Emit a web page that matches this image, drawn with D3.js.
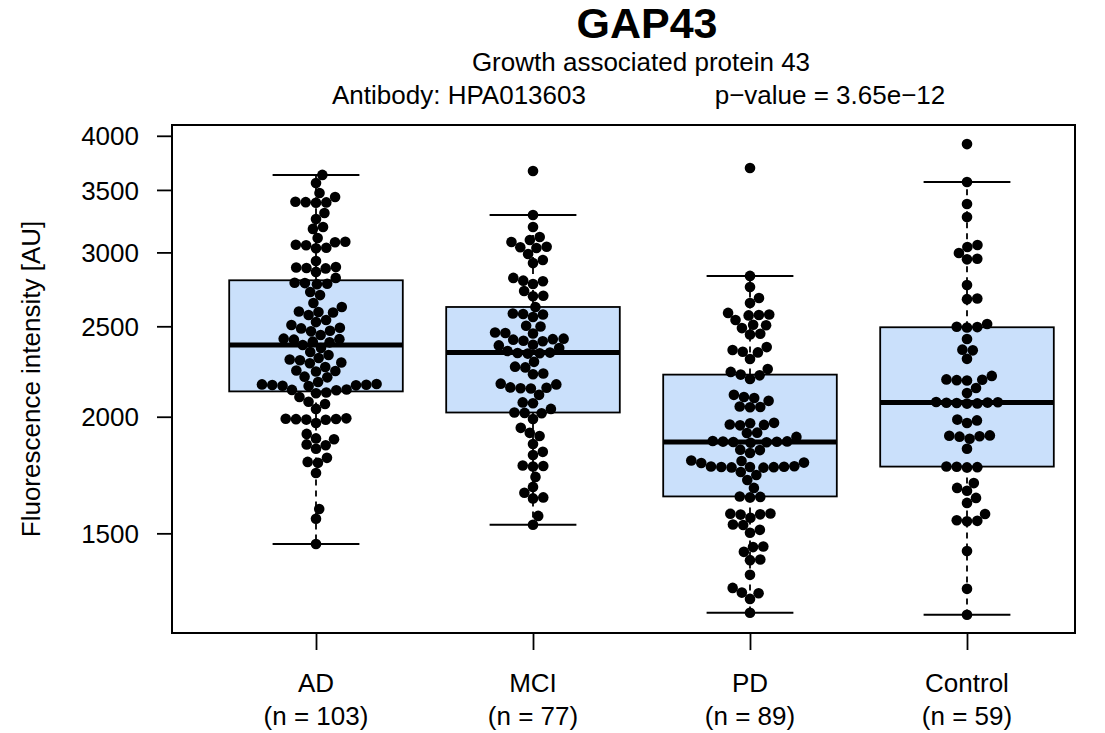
<!DOCTYPE html>
<html><head><meta charset="utf-8">
<script src="https://cdn.jsdelivr.net/npm/d3@7"></script>
<style>body{margin:0;background:#fff}svg{display:block}text{font-family:"Liberation Sans",Arial,Helvetica,sans-serif;fill:#000}</style>
</head><body>
<svg id="chart" width="1105" height="733"></svg>
<script>
// ---- data ----
const title = "GAP43";
const subtitle = "Growth associated protein 43";
const antibody = "Antibody: HPA013603";
const pvalue = "p\u2212value = 3.65e\u221212";
const yLabel = "Fluorescence intensity [AU]";
const categories = ["AD", "MCI", "PD", "Control"];
const yTicks = [1500, 2000, 2500, 3000, 3500, 4000];

const valuesAD = [3632,3560,3473,3439,3399,3396,3394,3391,3306,3258,3194,3179,3108,3080,3076,3057,3053,3035,3031,
 2937,2894,2890,2887,2884,2859,2817,2784,2781,2777,2774,2721,2700,2648,2622,2593,2590,2587,2571,2539,2526,2508,
 2491,2487,2473,2469,2447,2425,2422,2419,2407,2403,2387,
 2370,2346,2329,2312,2303,2299,2286,2282,2261,2242,2239,2236,2208,2204,2179,2168,2166,2164,2163,2161,2159,2157,2139,2137,2135,
 2123,2119,2100,2075,2064,2039,1992,1990,1989,1988,1986,1985,1969,1917,1896,1892,1868,1864,1848,1807,1789,1785,1741,1593,1555,1461];
const valuesMCI = [3667,3290,3194,3116,3093,3078,3042,3038,3033,2988,2944,2922,2817,2798,2794,2775,2727,2696,2692,2622,
 2580,2577,2574,2558,2503,2499,2462,2459,2456,2425,2422,2419,2412,2409,2389,2385,2370,2352,2343,2341,2339,2337,
 2290,2263,2259,2225,2221,2170,2166,2150,2148,2146,2144,2111,2072,2068,2039,2021,2019,2017,1989,1946,1922,1907,1870,
 1834,1820,1773,1771,1769,1724,1682,1658,1639,1635,1566,1532];
const valuesPD = [3694,2831,2754,2681,2648,2584,2574,2571,2568,2539,2510,2506,2489,2454,2450,2375,2358,2348,2344,2306,
 2250,2234,2219,2215,2195,2111,2100,2095,2080,2051,2049,2047,1970,1968,1962,1960,1958,1923,1921,1903,
 1884,1882,1881,1880,1879,1878,1876,1844,1842,1829,1795,1793,1786,1784,1770,1769,1768,1767,1767,1766,1765,1764,
 1745,1732,1711,1678,1643,1641,1639,1575,1574,1572,1571,1559,1533,1531,1513,1502,1452,1450,1433,1406,1404,1354,1311,1296,1294,1276,1233];
const valuesControl = [3919,3569,3380,3274,3055,3040,2996,2953,2949,2768,2677,2673,2514,2497,2495,2493,2423,2360,2356,2307,
 2212,2193,2191,2189,2187,2147,2121,2074,2073,2071,2070,2069,2067,2066,1986,1982,1969,1910,1908,1906,1904,1894,1848,
 1769,1768,1766,1765,1698,1678,1666,1637,1617,1573,1549,1547,1545,1436,1308,1227];
const groups = [valuesAD, valuesMCI, valuesPD, valuesControl];

// ---- layout ----
const svg = d3.select("#chart");
const plot = {left:172, right:1075, top:125, bottom:633};
const y = d3.scaleLog().domain([1173, 4108]).range([plot.bottom, plot.top]);
const x = d3.scaleLinear().domain([0.3364, 4.4977]).range([plot.left, plot.right]);
const boxW = 0.8, capW = 0.4;
const fillCol = "#cae0fb";
const diam = 10.3, rad = 5.3;
const fs = "26px";

function fivenum(a){
  const s=a.slice().sort((p,q)=>p-q), n=s.length, n4=Math.floor((n+3)/2)/2;
  return [1,n4,(n+1)/2,n+1-n4,n].map(k=>0.5*(s[Math.floor(k)-1]+s[Math.ceil(k)-1]));
}
function swarm(vals){
  const pts = vals.map(v=>({v, y:y(v)})).sort((a,b)=>a.v-b.v);
  const placed=[];
  for(const p of pts){
    const c=[0];
    for(const q of placed){const dy=Math.abs(q.y-p.y); if(dy<diam){const dx=Math.sqrt(diam*diam-dy*dy); c.push(q.x+dx,q.x-dx);}}
    c.sort((a,b)=>Math.abs(a)-Math.abs(b));
    for(const cx of c){ if(placed.every(q=>(q.x-cx)**2+(q.y-p.y)**2>=diam*diam-1e-6)){p.x=cx;break;} }
    placed.push(p);
  }
  return placed;
}

const g = svg.append("g");
groups.forEach((vals,i)=>{
  const k=i+1, f=fivenum(vals), iqr=f[3]-f[1];
  const hi=d3.max(vals.filter(v=>v<=f[3]+1.5*iqr)), lo=d3.min(vals.filter(v=>v>=f[1]-1.5*iqr));
  g.append("line").attr("x1",x(k)).attr("x2",x(k)).attr("y1",y(f[3])).attr("y2",y(hi)).attr("stroke","#000").attr("stroke-width",1.8).attr("stroke-dasharray","6,5");
  g.append("line").attr("x1",x(k)).attr("x2",x(k)).attr("y1",y(f[1])).attr("y2",y(lo)).attr("stroke","#000").attr("stroke-width",1.8).attr("stroke-dasharray","6,5");
  [hi,lo].forEach(v=>g.append("line").attr("x1",x(k-capW/2)).attr("x2",x(k+capW/2)).attr("y1",y(v)).attr("y2",y(v)).attr("stroke","#000").attr("stroke-width",2));
  g.append("rect").attr("x",x(k-boxW/2)).attr("width",x(k+boxW/2)-x(k-boxW/2)).attr("y",y(f[3])).attr("height",y(f[1])-y(f[3]))
    .attr("fill",fillCol).attr("stroke","#000").attr("stroke-width",1.8);
  g.append("line").attr("x1",x(k-boxW/2)).attr("x2",x(k+boxW/2)).attr("y1",y(f[2])).attr("y2",y(f[2])).attr("stroke","#000").attr("stroke-width",5);
  const pts=swarm(vals);
  g.selectAll(null).data(pts).enter().append("circle").attr("cx",d=>x(k)+d.x).attr("cy",d=>d.y).attr("r",rad).attr("fill","#000");
});

// frame
svg.append("rect").attr("x",plot.left).attr("y",plot.top).attr("width",plot.right-plot.left).attr("height",plot.bottom-plot.top)
  .attr("fill","none").attr("stroke","#000").attr("stroke-width",2);

// y axis
const ya = svg.append("g").attr("transform",`translate(${plot.left},0)`)
  .call(d3.axisLeft(y).tickValues(yTicks).tickFormat(d3.format("d")).tickSize(15).tickPadding(18));
ya.select(".domain").remove();
ya.selectAll("line").attr("stroke","#000").attr("stroke-width",1.8);
ya.selectAll("text").style("font-size",fs).attr("dy","0.35em");

// x axis
const xa = svg.append("g").attr("transform",`translate(0,${plot.bottom})`)
  .call(d3.axisBottom(x).tickValues([1,2,3,4]).tickFormat(()=>"").tickSize(17));
xa.select(".domain").remove();
xa.selectAll("line").attr("stroke","#000").attr("stroke-width",1.8);
categories.forEach((c,i)=>{
  svg.append("text").attr("x",x(i+1)).attr("y",692).attr("text-anchor","middle").style("font-size",fs).text(c);
  svg.append("text").attr("x",x(i+1)).attr("y",725).attr("text-anchor","middle").style("font-size",fs).text(`(n = ${groups[i].length})`);
});

// titles
svg.append("text").attr("x",647).attr("y",38).attr("text-anchor","middle").style("font-size","43px").style("font-weight","bold").text(title);
svg.append("text").attr("x",641).attr("y",71).attr("text-anchor","middle").style("font-size",fs).text(subtitle);
svg.append("text").attr("x",459).attr("y",104).attr("text-anchor","middle").style("font-size",fs).text(antibody);
svg.append("text").attr("x",830).attr("y",104).attr("text-anchor","middle").style("font-size",fs).text(pvalue);
svg.append("text").attr("transform",`translate(40,${(plot.top+plot.bottom)/2}) rotate(-90)`).attr("text-anchor","middle").style("font-size",fs).text(yLabel);
</script>
</body></html>
